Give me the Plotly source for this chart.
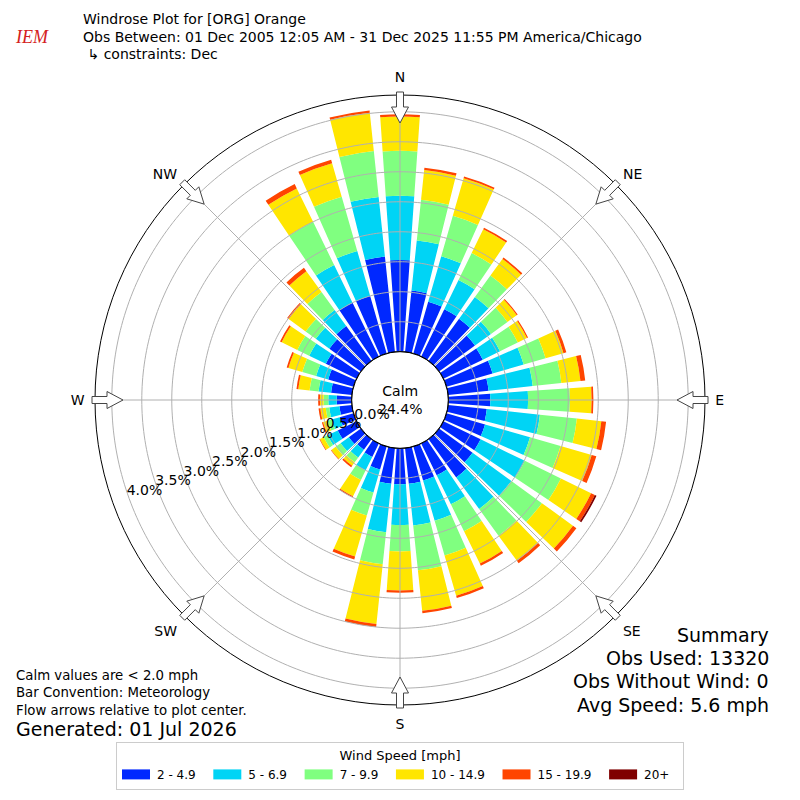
import numpy as np
import plotly.graph_objects as go

# Wind direction sectors (degrees, meteorological) and speed bins
DIRECTIONS = list(range(0, 360, 10))
SPEED_BINS = ['2 - 4.9', '5 - 6.9', '7 - 9.9', '10 - 14.9', '15 - 19.9', '20+']
BIN_COLORS = ['#0028ff', '#00d4f5', '#80ff80', '#ffe600', '#ff4500', '#800000']

# Percent of observations per direction, one list per speed bin
PCT_2_5 = [1.53, 1.03, 0.90, 0.88, 0.87, 0.74, 0.73, 0.80, 0.68, 0.70, 0.65, 0.67,
           0.69, 0.69, 0.79, 0.59, 0.59, 0.60, 0.60, 0.60, 0.40, 0.25, 0.22, 0.25,
           0.35, 0.24, 0.21, 0.25, 0.35, 0.44, 0.57, 0.65, 0.72, 1.00, 1.00, 1.60]
PCT_5_7 = [1.07, 0.84, 0.79, 0.54, 0.45, 0.33, 0.32, 0.54, 0.74, 0.63, 0.89, 0.78,
           0.82, 0.80, 0.65, 0.54, 0.70, 0.70, 0.68, 0.81, 0.40, 0.25, 0.16, 0.17,
           0.19, 0.14, 0.17, 0.14, 0.21, 0.21, 0.31, 0.28, 0.33, 0.70, 0.78, 1.00]
PCT_7_10 = [0.75, 0.68, 0.70, 0.50, 0.44, 0.34, 0.33, 0.38, 0.48, 0.70, 0.62, 0.53,
            0.67, 0.63, 0.55, 0.50, 0.60, 0.75, 0.44, 0.54, 0.40, 0.18, 0.10, 0.10,
            0.07, 0.07, 0.06, 0.08, 0.15, 0.24, 0.22, 0.21, 0.37, 0.80, 0.94, 0.77]
PCT_10_15 = [0.57, 0.50, 0.65, 0.44, 0.34, 0.19, 0.17, 0.31, 0.32, 0.36, 0.41, 0.54,
             0.56, 0.64, 0.52, 0.60, 0.70, 0.68, 0.65, 1.00, 0.71, 0.30, 0.07, 0.09,
             0.07, 0.08, 0.09, 0.06, 0.19, 0.24, 0.29, 0.35, 0.43, 0.62, 0.58, 0.64]
PCT_15_20 = [0.04, 0.04, 0.03, 0.03, 0.03, 0.02, 0.02, 0.05, 0.08, 0.03, 0.08, 0.08,
             0.07, 0.07, 0.05, 0.04, 0.04, 0.04, 0.04, 0.05, 0.05, 0.02, 0.03, 0.01,
             0.01, 0.02, 0.03, 0.03, 0.03, 0.03, 0.03, 0.03, 0.07, 0.08, 0.06, 0.04]
PCT_20_UP = [0, 0, 0, 0, 0, 0, 0, 0, 0, 0, 0, 0,
             0.03, 0, 0, 0, 0, 0, 0, 0, 0, 0, 0, 0,
             0, 0, 0, 0, 0, 0, 0, 0, 0, 0, 0, 0]

CALM_PCT = 24.4
RING_VALUES = [0.0, 0.5, 1.0, 1.5, 2.0, 2.5, 3.0, 3.5, 4.0]
RING_LABELS = [f'{v:.1f}%' for v in RING_VALUES]
COMPASS_ANGLES = [0, 45, 90, 135, 180, 225, 270, 315]
COMPASS_LABELS = ['N', 'NE', 'E', 'SE', 'S', 'SW', 'W', 'NW']

# Geometry of the polar area (pixels on the 800x800 page)
W = H = 800
CX, CY = 400, 400
R_OUTER = 305
R_HOLE = 48.3
RMAX = 4.28
FONT = 'DejaVu Sans'
RADIAL_LABEL_BEARING = 251.5


def arrow_path(bearing):
    """Outline block arrow sitting on the outer ring, pointing at the center."""
    b = np.radians(bearing)
    ux, uy = np.sin(b), -np.cos(b)
    px, py = np.cos(b), np.sin(b)
    pts = [(308, -3.5), (293, -3.5), (293, -8.5), (277, 0), (293, 8.5), (293, 3.5), (308, 3.5)]
    coords = []
    for a, w in pts:
        x = CX + a * ux + w * px
        y = CY + a * uy + w * py
        coords.append(f'{x / W:.5f},{1 - y / H:.5f}')
    return 'M ' + ' L '.join(coords) + ' Z'


fig = go.Figure()

series = [PCT_2_5, PCT_5_7, PCT_7_10, PCT_10_15, PCT_15_20, PCT_20_UP]
for name, color, vals in zip(SPEED_BINS, BIN_COLORS, series):
    fig.add_trace(go.Barpolar(
        r=vals, theta=DIRECTIONS, width=8, name=name, showlegend=False,
        marker=dict(color=color, line=dict(width=0)),
        hoverinfo='skip'
    ))

# grid drawn over the bars, like the original
circle_theta = np.linspace(0, 360, 361)
for v in RING_VALUES[1:]:
    fig.add_trace(go.Scatterpolar(
        r=[v] * len(circle_theta), theta=circle_theta, mode='lines',
        line=dict(color='#b0b0b0', width=1), showlegend=False, hoverinfo='skip'
    ))
for a in COMPASS_ANGLES:
    fig.add_trace(go.Scatterpolar(
        r=[0, RMAX], theta=[a, a], mode='lines',
        line=dict(color='#b0b0b0', width=1), showlegend=False, hoverinfo='skip'
    ))
# calm circle outline
fig.add_trace(go.Scatterpolar(
    r=[0] * len(circle_theta), theta=circle_theta, mode='lines',
    line=dict(color='black', width=1.2), showlegend=False, hoverinfo='skip'
))
# ring labels along one ray, matplotlib style
fig.add_trace(go.Scatterpolar(
    r=RING_VALUES, theta=[RADIAL_LABEL_BEARING] * len(RING_VALUES), mode='text',
    text=RING_LABELS, textposition='middle right',
    textfont=dict(family=FONT, size=14, color='black'),
    showlegend=False, hoverinfo='skip'
))

# legend entries as wide colour patches (thick dashed swatch gives a 28px patch)
for name, color in zip(SPEED_BINS, BIN_COLORS):
    fig.add_trace(go.Scatterpolar(
        r=[None], theta=[None], mode='lines', name=name + '\u00a0\u00a0',
        line=dict(color=color, width=10, dash='28px,40px'), hoverinfo='skip'
    ))

shapes = [dict(type='path', path=arrow_path(a), xref='paper', yref='paper',
               fillcolor='white', line=dict(color='#444444', width=1), layer='above')
          for a in COMPASS_ANGLES]

big = dict(family=FONT, size=19, color='black')
small = dict(family=FONT, size=13.3, color='black')
annotations = [
    dict(text='<i>IEM</i>', x=32 / W, y=1 - 37 / H, xanchor='center',
         font=dict(family='Liberation Serif', size=18, color='#d42020')),
    dict(text='Windrose Plot for [ORG] Orange', x=81 / W, y=1 - 19 / H, xanchor='left'),
    dict(text='Obs Between: 01 Dec 2005 12:05 AM - 31 Dec 2025 11:55 PM America/Chicago',
         x=81 / W, y=1 - 37 / H, xanchor='left'),
    dict(text=' \u21b3 constraints: Dec', x=81 / W, y=1 - 54 / H, xanchor='left'),
    dict(text=f'Calm<br>{CALM_PCT}%', x=0.5, y=1 - 400 / H, xanchor='center',
         font=dict(family=FONT, size=14, color='black')),
    dict(text='Calm values are < 2.0 mph', x=14 / W, y=1 - 675 / H, xanchor='left', font=small),
    dict(text='Bar Convention: Meteorology', x=14 / W, y=1 - 692 / H, xanchor='left', font=small),
    dict(text='Flow arrows relative to plot center.', x=14 / W, y=1 - 710 / H, xanchor='left',
         font=small),
    dict(text='Generated: 01 Jul 2026', x=14 / W, y=1 - 729 / H, xanchor='left', font=big),
    dict(text='Summary', x=771 / W, y=1 - 635 / H, xanchor='right', font=big),
    dict(text='Obs Used: 13320', x=771 / W, y=1 - 658 / H, xanchor='right', font=big),
    dict(text='Obs Without Wind: 0', x=771 / W, y=1 - 681 / H, xanchor='right', font=big),
    dict(text='Avg Speed: 5.6 mph', x=771 / W, y=1 - 705 / H, xanchor='right', font=big),
]
for ann in annotations:
    ann.setdefault('xref', 'paper')
    ann.setdefault('yref', 'paper')
    ann.setdefault('showarrow', False)
    ann.setdefault('yanchor', 'middle')
    ann.setdefault('font', dict(family=FONT, size=14, color='black'))

dom = [(CX - R_OUTER) / W, (CX + R_OUTER) / W]
fig.update_layout(
    width=W, height=H,
    margin=dict(l=0, r=0, t=0, b=0),
    paper_bgcolor='white',
    font=dict(family=FONT, size=13, color='black'),
    polar=dict(
        domain=dict(x=dom, y=dom),
        hole=R_HOLE / R_OUTER,
        bgcolor='white',
        barmode='stack',
        radialaxis=dict(
            range=[0, RMAX], tickvals=RING_VALUES,
            showgrid=False, showline=False, ticks='', showticklabels=False
        ),
        angularaxis=dict(
            direction='clockwise', rotation=90,
            tickvals=COMPASS_ANGLES, ticktext=COMPASS_LABELS,
            showgrid=False, showline=True, linecolor='black', linewidth=1,
            ticks='outside', ticklen=7, tickcolor='rgba(0,0,0,0)',
            tickfont=dict(family=FONT, size=14, color='black')
        ),
    ),
    legend=dict(
        orientation='h', x=0.5, xanchor='center', y=1 - 790 / H, yanchor='bottom',
        title=dict(text='Wind Speed [mph]', side='top center', font=dict(family=FONT, size=13)),
        bordercolor='#cccccc', borderwidth=1, bgcolor='white', itemwidth=30,
        font=dict(family=FONT, size=12), traceorder='normal'
    ),
    shapes=shapes,
    annotations=annotations,
)

fig.write_html('out.html', config={'displayModeBar': False},
               post_script="document.body.style.margin='0px';")
